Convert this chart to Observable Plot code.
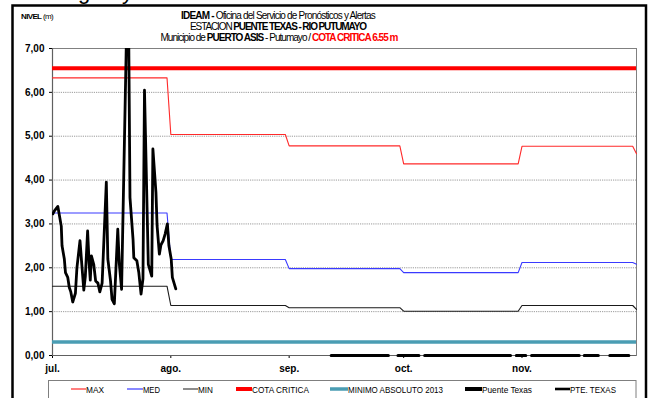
<!DOCTYPE html>
<html>
<head>
<meta charset="utf-8">
<script src="https://cdn.jsdelivr.net/npm/d3@7"></script>
<script src="https://cdn.jsdelivr.net/npm/@observablehq/plot@0.6"></script>
<style>
  body { margin: 0; background: #fff; }
  #wrap { position: relative; width: 650px; height: 398px; overflow: hidden; background: #fff;
          font-family: "Liberation Sans Narrow", "Arial Narrow", "Liberation Sans", Arial, sans-serif; }
  #wrap > svg { position: absolute; left: 0; top: 0; }
</style>
</head>
<body>
<div id="wrap"></div>
<script>
// ---------------- DATA ----------------
const refDates   = ["2013-07-01","2013-07-31","2013-08-01","2013-08-31","2013-09-01","2013-09-30","2013-10-01","2013-10-31","2013-11-01","2013-11-30","2013-12-01"];
const maxLevel   = [6.33, 6.33, 5.04, 5.04, 4.78, 4.78, 4.37, 4.37, 4.77, 4.77, 4.60];
const medLevel   = [3.25, 3.25, 2.19, 2.19, 1.98, 1.98, 1.89, 1.89, 2.12, 2.12, 2.08];
const minLevel   = [1.58, 1.58, 1.14, 1.14, 1.09, 1.09, 1.01, 1.01, 1.14, 1.14, 1.05];
const cotaCritica = 6.55;
const minimoAbsoluto2013 = 0.31;

// Puente Texas readings: days elapsed since 1 July 2013, level (m)
const ptDay   = [0.1, 0.5, 1.4, 2.3, 2.5, 3.1, 3.4, 4.0, 4.4, 4.8, 5.3, 6.0, 6.4, 7.2, 7.7, 8.2, 8.6, 9.2, 9.6, 9.9,
                 10.2, 10.8, 11.3, 11.9, 12.4, 13.0, 14.1, 14.5, 15.2, 15.6, 16.2, 17.1, 17.5, 18.1, 19.8, 20.3, 21.1, 21.3, 22.1, 22.6,
                 23.2, 23.7, 24.1, 25.1, 26.0, 26.3, 27.1, 27.4, 28.0, 28.4, 29.0, 29.5, 30.1, 30.5, 31.1, 31.4, 32.3];
const ptLevel = [3.23, 3.30, 3.40, 2.95, 2.50, 2.20, 1.89, 1.78, 1.55, 1.45, 1.22, 1.42, 2.00, 2.62, 2.05, 1.49, 1.80, 2.84, 2.10, 1.72,
                 2.27, 2.08, 1.70, 1.65, 1.45, 1.65, 3.95, 2.20, 1.70, 1.28, 1.18, 2.88, 2.10, 1.51, 9.20, 3.60, 2.65, 2.23, 2.16, 1.90,
                 1.40, 1.75, 6.05, 2.08, 1.81, 4.71, 3.72, 2.96, 2.31, 2.52, 2.62, 2.77, 3.00, 2.50, 2.20, 1.78, 1.52];

// PTE. TEXAS: days elapsed since 1 July 2013 (null = no data)
const pteDay   = [73, 88, 89, 90.5, 96, 96.5, 97.5, 120, 121, 121.5, 124, 125, 125.5, 138, 138.5, 139.3, 143, 144, 146, 151];
const pteLevel = [0, 0, null, 0, 0, null, 0, 0, null, 0, 0, null, 0, 0, null, 0, 0, null, 0, 0];

const monthTicks  = ["2013-07-01","2013-08-01","2013-09-01","2013-10-01","2013-11-01"];
const monthLabels = ["jul.","ago.","sep.","oct.","nov."];
const yTicks      = [0, 1, 2, 3, 4, 5, 6, 7];
const gridLevels  = [1, 2, 3, 4, 5, 6];
const xDomain     = ["2013-07-01","2013-12-01"];

const legendNames = ["MAX","MED","MIN","COTA CRITICA","MINIMO ABSOLUTO 2013","Puente Texas","PTE. TEXAS"];

// ---------------- BUILD ----------------
const parse = d3.utcParse("%Y-%m-%d");
const DAY = 864e5;
const t0 = parse("2013-07-01").getTime();

const refData = refDates.map((s, i) => ({date: parse(s), max: maxLevel[i], med: medLevel[i], min: minLevel[i]}));
const ptData  = ptDay.map((d, i) => ({date: new Date(t0 + d * DAY), level: ptLevel[i]}));
const pteData = pteDay.map((d, i) => ({date: new Date(t0 + d * DAY), level: pteLevel[i]}));
const tickDates = monthTicks.map(parse);
const dom = xDomain.map(parse);

const C = {
  max: "#ff2a2a", med: "#3a3aff", min: "#1a1a1a", cota: "#ff0000",
  minimo: "#4a9db3", pt: "#000000", pte: "#000000", grid: "#9a9a9a", axis: "#808080"
};
const FONT = '"Liberation Sans Narrow","Arial Narrow","Liberation Sans",Arial,sans-serif';
const fmtY = d => d3.format(".2f")(d).replace(".", ",");

const chart = Plot.plot({
  width: 650,
  height: 380,
  marginLeft: 52,
  marginRight: 14,
  marginTop: 48,
  marginBottom: 25,
  style: {fontFamily: FONT, fontSize: "10px", fontWeight: "bold", color: "#000",
          background: "transparent", overflow: "visible"},
  x: {type: "utc", domain: dom, ticks: tickDates,
      tickFormat: d => monthLabels[tickDates.findIndex(t => +t === +d)],
      tickSize: 3, tickPadding: 6, label: null},
  y: {domain: [0, 7], ticks: yTicks, tickFormat: fmtY, tickSize: 3, tickPadding: 5, label: null},
  marks: [
    Plot.ruleY(gridLevels, {stroke: C.grid, strokeDasharray: "1.2,1", strokeWidth: 1}),
    Plot.frame({stroke: C.axis, strokeWidth: 1}),
    Plot.ruleX([dom[0]], {stroke: "#606060", strokeWidth: 1.2}),
    Plot.ruleY([0], {stroke: "#606060", strokeWidth: 1.2}),
    Plot.ruleY([minimoAbsoluto2013], {stroke: C.minimo, strokeWidth: 3.5}),
    Plot.line(refData, {x: "date", y: "min", stroke: C.min, strokeWidth: 1.1}),
    Plot.line(refData, {x: "date", y: "med", stroke: C.med, strokeWidth: 1.1}),
    Plot.line(refData, {x: "date", y: "max", stroke: C.max, strokeWidth: 1.1}),
    Plot.ruleY([cotaCritica], {stroke: C.cota, strokeWidth: 4}),
    Plot.line(ptData, {x: "date", y: "level", stroke: C.pt, strokeWidth: 2.8, strokeLinejoin: "round", clip: true}),
    Plot.line(pteData, {x: "date", y: "level", stroke: C.pte, strokeWidth: 3})
  ]
});
document.getElementById("wrap").appendChild(chart);

// ---------------- HEADER, LEGEND, BORDER ----------------
const ov = d3.select("#wrap").append("svg")
  .attr("width", 650).attr("height", 398)
  .style("pointer-events", "none")
  .style("font-family", FONT);

// cropped text above the chart (only descenders visible)
ov.append("text").attr("x", 78).attr("y", -1).attr("font-size", 22).attr("fill", "#000").text("g");
ov.append("text").attr("x", 122).attr("y", -1).attr("font-size", 22).attr("fill", "#000").text("y");

// outer border
ov.append("rect").attr("x", 12.5).attr("y", 5.5).attr("width", 633.5).attr("height", 400)
  .attr("fill", "none").attr("stroke", "#000").attr("stroke-width", 2.5);

// a line of separate text runs, tightened with letter-spacing to span the target width
function runLine(x, y, width, size, runs) {
  const nodes = runs.map(r => ov.append("text")
    .attr("y", y).attr("font-size", size)
    .attr("font-weight", r.bold ? "bold" : "normal")
    .attr("fill", r.color || "#000")
    .text(r.text));
  const probe = ov.append("text").attr("font-size", size).text("a a");
  const probe2 = ov.append("text").attr("font-size", size).text("aa");
  const space = probe.node().getComputedTextLength() - probe2.node().getComputedTextLength();
  probe.remove(); probe2.remove();
  const widths = nodes.map(n => n.node().getComputedTextLength());
  const gaps = runs.map(r => r.gap ? space : 0);
  const nChars = d3.sum(runs, r => r.text.length) + d3.sum(gaps, g => g ? 1 : 0);
  const ls = Math.min(0, (width - d3.sum(widths) - d3.sum(gaps)) / nChars);
  let cx = x;
  nodes.forEach((n, i) => {
    cx += gaps[i] ? gaps[i] + ls : 0;
    n.attr("x", cx).attr("letter-spacing", ls);
    cx += widths[i] + ls * runs[i].text.length;
  });
}

runLine(21, 19, 32, 8, [{text: "NIVEL", bold: true}, {text: "(m)", gap: true}]);
runLine(181, 18.5, 194, 10, [{text: "IDEAM -", bold: true}, {text: "Oficina del Servicio de Pronósticos y Alertas", gap: true}]);
runLine(190, 29.8, 176, 10, [{text: "ESTACION"}, {text: "PUENTE TEXAS - RIO PUTUMAYO", bold: true, gap: true}]);
runLine(160.5, 41.2, 237, 10, [{text: "Municipio de"}, {text: "PUERTO ASIS", bold: true, gap: true},
                                {text: "- Putumayo /", gap: true},
                                {text: "COTA CRITICA 6.55 m", bold: true, color: "#ff0000", gap: true}]);

// legend
const lg = ov.append("g").attr("transform", "translate(0,380)");
lg.append("rect").attr("x", 48.5).attr("y", 0.5).attr("width", 587.5).attr("height", 24)
  .attr("fill", "#fff").attr("stroke", "#7f7f7f").attr("stroke-width", 1);
const legendStyle = [
  {c: C.max, w: 1.2}, {c: C.med, w: 1.2}, {c: "#404040", w: 1.2}, {c: C.cota, w: 4},
  {c: C.minimo, w: 3.5}, {c: "#000", w: 4}, {c: "#000", w: 2.6}
];
const legendPos = [
  {x0: 71, x1: 86, tx: 86, tw: 18}, {x0: 127, x1: 143, tx: 143, tw: 17},
  {x0: 183, x1: 198, tx: 198, tw: 15}, {x0: 236, x1: 252, tx: 252, tw: 57},
  {x0: 330, x1: 348, tx: 348, tw: 95}, {x0: 465, x1: 482, tx: 482, tw: 50},
  {x0: 555, x1: 570, tx: 570, tw: 46}
];
legendNames.forEach((name, i) => {
  const p = legendPos[i], s = legendStyle[i];
  lg.append("line").attr("x1", p.x0).attr("x2", p.x1).attr("y1", 9).attr("y2", 9)
    .attr("stroke", s.c).attr("stroke-width", s.w);
  lg.append("text").attr("x", p.tx).attr("y", 12.5).attr("font-size", 9).attr("fill", "#000")
    .attr("textLength", p.tw).attr("lengthAdjust", "spacingAndGlyphs").text(name);
});
</script>
</body>
</html>
